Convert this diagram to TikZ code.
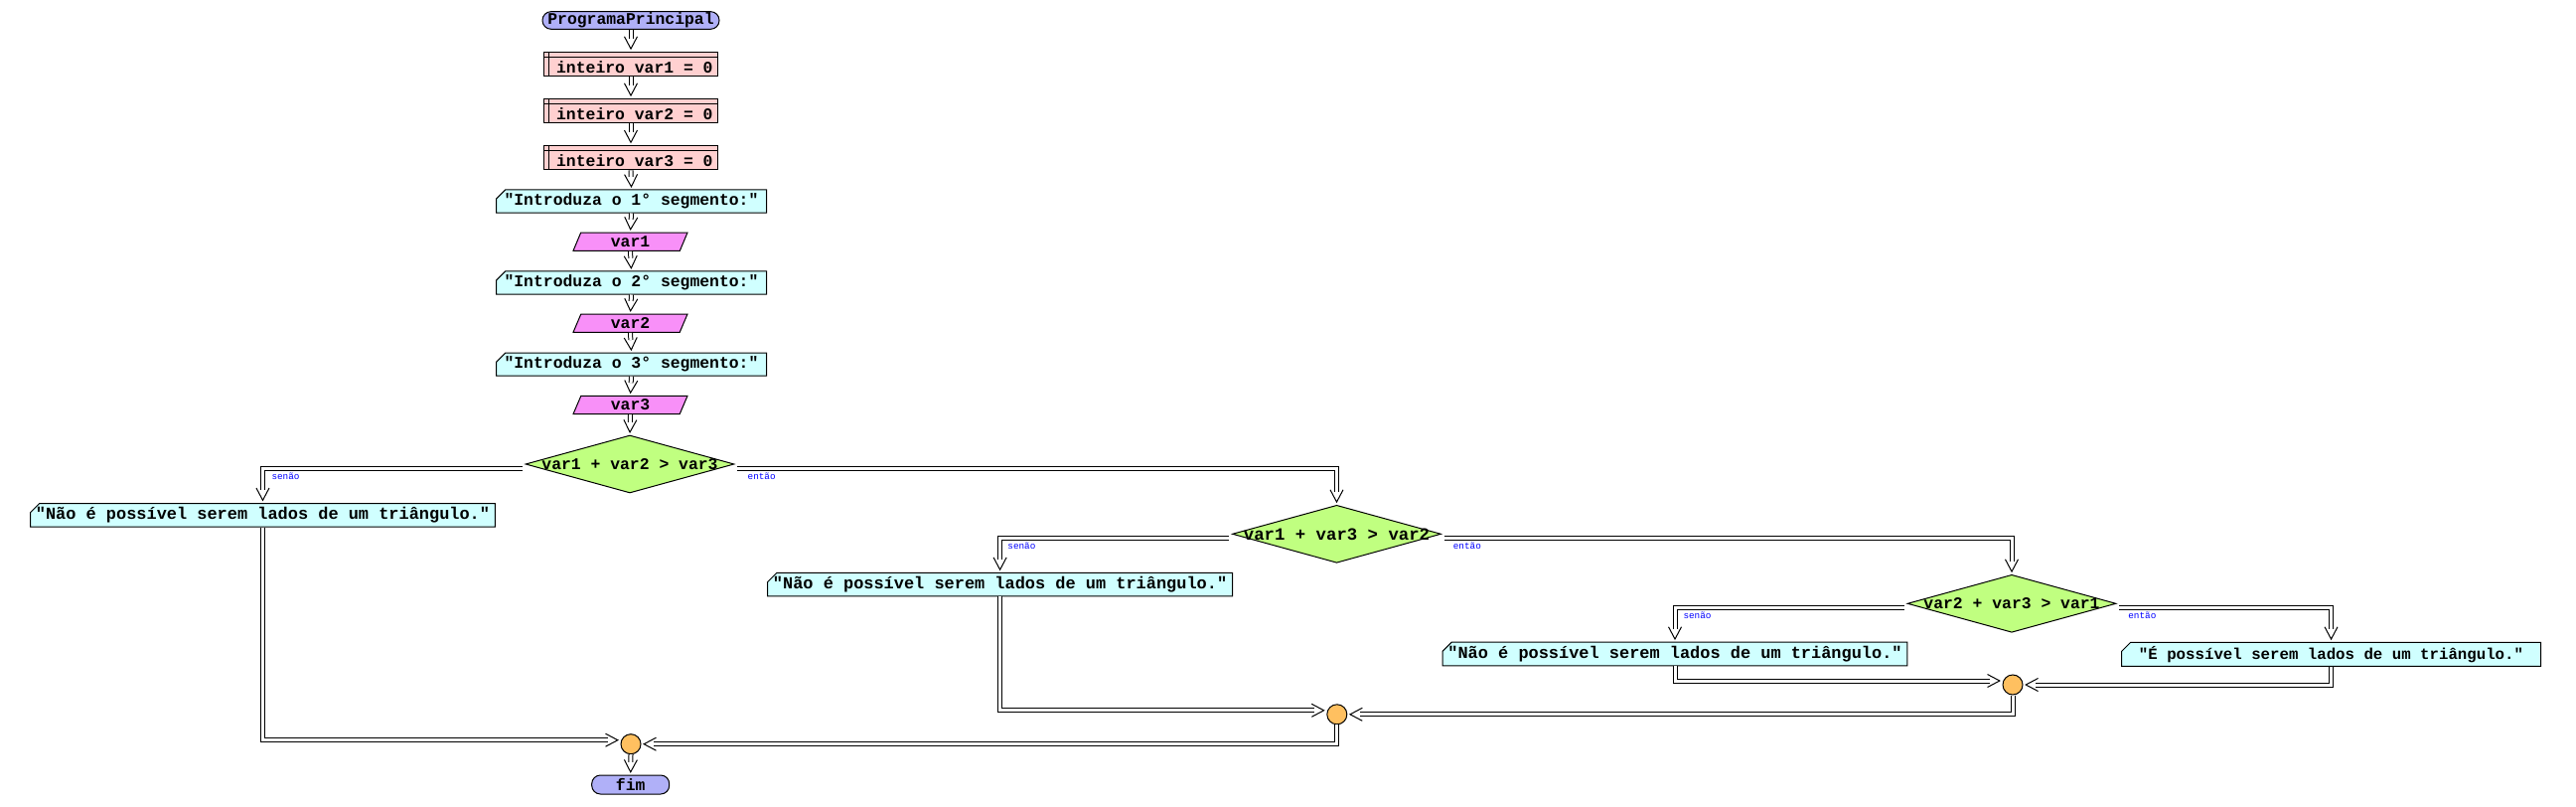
\documentclass[tikz,border=0pt]{standalone}
\usepackage{fontspec}
\setmonofont{Liberation Mono}
\usetikzlibrary{arrows.meta,shapes.geometric,shapes.misc,calc,decorations.markings}
\definecolor{termc}{RGB}{176,176,248}
\definecolor{declc}{RGB}{255,208,208}
\definecolor{outc}{RGB}{208,255,255}
\definecolor{inpc}{RGB}{248,144,248}
\definecolor{decc}{RGB}{192,255,128}
\definecolor{joinc}{RGB}{255,192,96}
\newcommand{\decltxt}[1]{\raisebox{-2.25pt}[\height][\depth]{\hspace*{5.8pt}#1}}
\newcommand{\vtip}{\pgfsetinnerlinewidth{0pt}\pgfsetshortenend{0pt}\pgfsetshortenstart{0pt}\pgfsetarrows{-}\pgfsetlinewidth{0.75pt}\pgfsetstrokecolor{black}\pgfsetmiterjoin
  \pgfpathmoveto{\pgfpoint{-11.25pt}{4.875pt}}\pgfpathlineto{\pgfpoint{-2pt}{0pt}}\pgfpathlineto{\pgfpoint{-11.25pt}{-4.875pt}}\pgfusepath{stroke}}
\begin{document}
\begin{tikzpicture}[x=0.75pt,y=-0.75pt,
  txt/.style={font=\ttfamily\bfseries\fontsize{12.3}{14}\selectfont},
  base/.style={draw, line width=0.75pt, inner sep=0pt, txt},
  term/.style={base, rectangle, rounded corners=6.5pt, fill=termc, minimum width=178*0.75pt, minimum height=17.6*0.75pt},
  decl/.style={base, rectangle, fill=declc, minimum width=175*0.75pt, minimum height=24.4*0.75pt,
    path picture={
      \draw[line width=0.75pt] ([yshift=-3.75pt]path picture bounding box.north west) -- ([yshift=-3.75pt]path picture bounding box.north east);
      \draw[line width=0.75pt] ([xshift=3.75pt]path picture bounding box.north west) -- ([xshift=3.75pt]path picture bounding box.south west);}},
  outp/.style={base, chamfered rectangle, chamfered rectangle corners=north west, chamfered rectangle xsep=4pt, fill=outc, minimum height=18.4*0.75pt},
  inp/.style={base, trapezium, trapezium left angle=55, trapezium right angle=125, trapezium stretches body, fill=inpc, minimum width=115*0.75pt, minimum height=18.3*0.75pt},
  dec/.style={draw, line width=0.75pt, diamond, aspect=3.62, fill=decc, minimum width=210*0.75pt, minimum height=58*0.75pt, inner sep=0pt},
  joinnode/.style={draw, line width=0.75pt, circle, fill=joinc, minimum size=20*0.75pt, inner sep=0pt},
  conn/.style={draw, line width=0.75pt, double, double distance=2.25pt, shorten >=9.5pt,
    postaction={decorate, decoration={markings, mark=at position 1 with {\vtip}}}},
  lab/.style={text=blue, font=\ttfamily\fontsize{7}{8}\selectfont, inner sep=0pt, anchor=north west}
]
\path[fill=white] (0,0) rectangle (2593,812);
% main column
\node[term] (start) at (635,20.5) {ProgramaPrincipal};
\node[decl] (v1) at (635,64.5) {\decltxt{inteiro var1 = 0}};
\node[decl] (v2) at (635,111.5) {\decltxt{inteiro var2 = 0}};
\node[decl] (v3) at (635,158.7) {\decltxt{inteiro var3 = 0}};
\node[outp, minimum width=272*0.75pt] (o1) at (635.5,202.5) {"Introduza o 1° segmento:"};
\node[inp] (i1) at (634.5,243.2) {var1};
\node[outp, minimum width=272*0.75pt] (o2) at (635.5,284.5) {"Introduza o 2° segmento:"};
\node[inp] (i2) at (634.5,325.2) {var2};
\node[outp, minimum width=272*0.75pt] (o3) at (635.5,366.7) {"Introduza o 3° segmento:"};
\node[inp] (i3) at (634.5,407.5) {var3};
% decisions
\node[dec, label={[txt]center:var1 + var2 > var3}] (c1) at (634,467) {};
\node[dec, label={[font=\ttfamily\bfseries\fontsize{13}{15}\selectfont]center:var1 + var3 > var2}] (c2) at (1345.5,537.3) {};
\node[dec, label={[txt]center:var2 + var3 > var1}] (c3) at (2025,607.3) {};
% outputs
\node[outp, minimum width=462*0.75pt, font=\ttfamily\bfseries\fontsize{12.7}{14}\selectfont] (nA) at (264.5,518.3) {"Não é possível serem lados de um triângulo."};
\node[outp, minimum width=462*0.75pt, font=\ttfamily\bfseries\fontsize{12.7}{14}\selectfont] (nB) at (1006.6,588.2) {"Não é possível serem lados de um triângulo."};
\node[outp, minimum width=462*0.75pt, font=\ttfamily\bfseries\fontsize{12.7}{14}\selectfont] (nC) at (1686,658) {"Não é possível serem lados de um triângulo."};
\node[outp, minimum width=422*0.75pt, font=\ttfamily\bfseries\fontsize{11.8}{14}\selectfont] (yes) at (2346.5,658.3) {"É possível serem lados de um triângulo."};
% joins
\node[joinnode] (j1) at (2026,689) {};
\node[joinnode] (j2) at (1345.8,718.8) {};
\node[joinnode] (j3) at (635,748.7) {};
\node[term, minimum width=78*0.75pt, minimum height=19*0.75pt] (end) at (634.7,789.5) {fim};
% connectors main column
\draw[conn] (start.south) -- (v1.north);
\draw[conn] (v1.south) -- (v2.north);
\draw[conn] (v2.south) -- (v3.north);
\draw[conn] (v3.south) -- (o1.north);
\draw[conn] (o1.south) -- (i1.north);
\draw[conn] (i1.south) -- (o2.north);
\draw[conn] (o2.south) -- (i2.north);
\draw[conn] (i2.south) -- (o3.north);
\draw[conn] (o3.south) -- (i3.north);
\draw[conn] (i3.south) -- (c1.north);
% branches
\draw[conn, shorten <=2pt] ([yshift=-3pt]c1.west) -| (nA.north) node[pos=0.5, lab, xshift=6.4pt, yshift=-3pt] {senão};
\draw[conn, shorten <=2pt] ([yshift=-3pt]c1.east) -| (c2.north) node[pos=0, lab, xshift=9.5pt, yshift=-3pt] {então};
\draw[conn, shorten <=2pt] ([yshift=-3pt]c2.west) -| (nB.north) node[pos=0.5, lab, xshift=5.5pt, yshift=-3pt] {senão};
\draw[conn, shorten <=2pt] ([yshift=-3pt]c2.east) -| (c3.north) node[pos=0, lab, xshift=8.5pt, yshift=-3pt] {então};
\draw[conn, shorten <=2pt] ([yshift=-3pt]c3.west) -| (nC.north) node[pos=0.5, lab, xshift=6pt, yshift=-3pt] {senão};
\draw[conn, shorten <=2pt] ([yshift=-3pt]c3.east) -| (yes.north) node[pos=0, lab, xshift=8.5pt, yshift=-3pt] {então};
% merges
\draw[conn] (nC.south) |- ([yshift=3pt]j1.west);
\draw[conn] (yes.south) |- (j1.east);
\draw[conn] (nB.south) |- ([yshift=3pt]j2.west);
\draw[conn] (j1.south) |- (j2.east);
\draw[conn] (nA.south) |- ([yshift=3pt]j3.west);
\draw[conn] (j2.south) |- (j3.east);
\draw[conn] (j3.south) -- (end.north);
\end{tikzpicture}
\end{document}
